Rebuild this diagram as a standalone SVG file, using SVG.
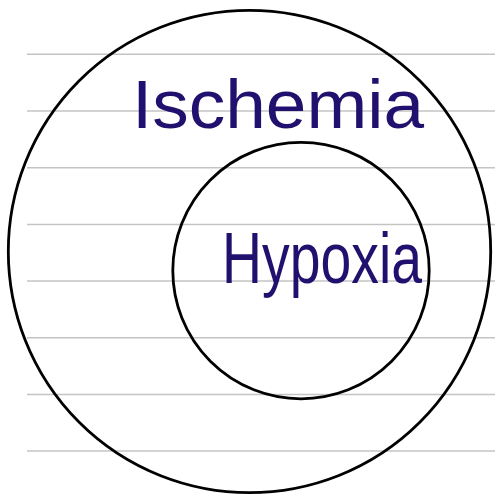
<svg xmlns="http://www.w3.org/2000/svg" width="495" height="495" viewBox="0 0 495 495">
<style>
.rule{stroke:#c4c4c4;stroke-width:1.5;fill:none}
.circ{stroke:#000;stroke-width:2.8;fill:none}
.hand{font-family:"Liberation Sans","DejaVu Sans",sans-serif;fill:#22106e}
</style>
<rect width="495" height="495" fill="#fff"/>
<g id="rules">
<line class="rule" x1="27" y1="54.3" x2="495" y2="54.3"/>
<line class="rule" x1="27" y1="111" x2="495" y2="111"/>
<line class="rule" x1="27" y1="167.7" x2="495" y2="167.7"/>
<line class="rule" x1="27" y1="224.4" x2="495" y2="224.4"/>
<line class="rule" x1="27" y1="281" x2="495" y2="281"/>
<line class="rule" x1="27" y1="337.7" x2="495" y2="337.7"/>
<line class="rule" x1="27" y1="394.4" x2="495" y2="394.4"/>
<line class="rule" x1="27" y1="451" x2="495" y2="451"/>
</g>
<g id="ischemia">
<circle class="circ" cx="249.5" cy="251.5" r="241.2"/>
<text class="hand" x="132" y="128" font-size="68" textLength="292" lengthAdjust="spacingAndGlyphs">Ischemia</text>
</g>
<g id="hypoxia">
<circle class="circ" cx="301" cy="270.6" r="128.2"/>
<text class="hand" x="222" y="283" font-size="72" textLength="200" lengthAdjust="spacingAndGlyphs">Hypoxia</text>
</g>
</svg>
